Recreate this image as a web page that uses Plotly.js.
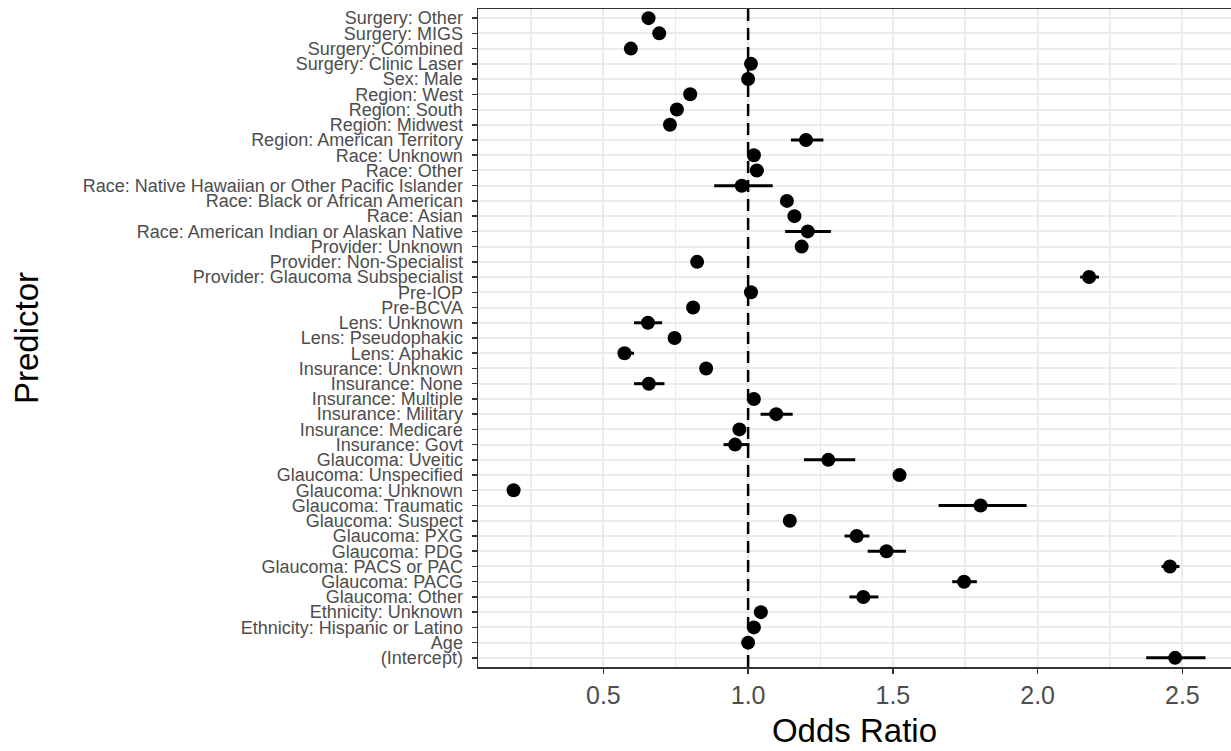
<!DOCTYPE html>
<html>
<head>
<meta charset="utf-8">
<script src="https://cdn.plot.ly/plotly-3.0.1.min.js"></script>
<style>
html, body { margin: 0; padding: 0; background: #ffffff; overflow: hidden; }
#chart { width: 1231px; height: 751px; }
</style>
</head>
<body>
<div id="chart"></div>
<script>
// Predictors (bottom to top, as drawn)
const predictors = [
  "(Intercept)", "Age", "Ethnicity: Hispanic or Latino", "Ethnicity: Unknown",
  "Glaucoma: Other", "Glaucoma: PACG", "Glaucoma: PACS or PAC", "Glaucoma: PDG",
  "Glaucoma: PXG", "Glaucoma: Suspect", "Glaucoma: Traumatic", "Glaucoma: Unknown",
  "Glaucoma: Unspecified", "Glaucoma: Uveitic", "Insurance: Govt", "Insurance: Medicare",
  "Insurance: Military", "Insurance: Multiple", "Insurance: None", "Insurance: Unknown",
  "Lens: Aphakic", "Lens: Pseudophakic", "Lens: Unknown", "Pre-BCVA", "Pre-IOP",
  "Provider: Glaucoma Subspecialist", "Provider: Non-Specialist", "Provider: Unknown",
  "Race: American Indian or Alaskan Native", "Race: Asian", "Race: Black or African American",
  "Race: Native Hawaiian or Other Pacific Islander", "Race: Other", "Race: Unknown",
  "Region: American Territory", "Region: Midwest", "Region: South", "Region: West",
  "Sex: Male", "Surgery: Clinic Laser", "Surgery: Combined", "Surgery: MIGS", "Surgery: Other"
];

const oddsRatio = [
  2.475, 1.000, 1.020, 1.044,
  1.398, 1.746, 2.457, 1.478,
  1.375, 1.144, 1.803, 0.190,
  1.523, 1.277, 0.955, 0.970,
  1.097, 1.020, 0.657, 0.855,
  0.573, 0.746, 0.654, 0.810, 1.010,
  2.178, 0.824, 1.185,
  1.206, 1.160, 1.134,
  0.978, 1.030, 1.020,
  1.200, 0.730, 0.754, 0.800,
  1.000, 1.010, 0.595, 0.693, 0.656
];

const ciLower = [
  2.375, 0.996, 1.012, 1.034,
  1.350, 1.705, 2.428, 1.413,
  1.333, 1.136, 1.658, 0.186,
  1.512, 1.193, 0.915, 0.963,
  1.043, 1.012, 0.606, 0.847,
  0.552, 0.739, 0.606, 0.805, 1.006,
  2.147, 0.818, 1.177,
  1.128, 1.152, 1.127,
  0.883, 1.006, 1.013,
  1.148, 0.724, 0.748, 0.794,
  0.996, 1.003, 0.582, 0.686, 0.650
];

const ciUpper = [
  2.580, 1.004, 1.028, 1.054,
  1.450, 1.790, 2.490, 1.545,
  1.419, 1.152, 1.962, 0.194,
  1.534, 1.370, 1.005, 0.977,
  1.154, 1.028, 0.711, 0.863,
  0.606, 0.753, 0.703, 0.815, 1.014,
  2.212, 0.830, 1.193,
  1.286, 1.168, 1.141,
  1.085, 1.055, 1.027,
  1.260, 0.736, 0.760, 0.806,
  1.004, 1.017, 0.610, 0.700, 0.662
];

const xTickVals = [0.5, 1.0, 1.5, 2.0, 2.5];
const xTickText = ["0.5", "1.0", "1.5", "2.0", "2.5"];
const minorTickVals = [0.25, 0.75, 1.25, 1.75, 2.25];
const referenceOR = 1;
const xTitle = "Odds Ratio";
const yTitle = "Predictor";

const trace = {
  type: "scatter",
  mode: "markers",
  x: oddsRatio,
  y: predictors,
  marker: { color: "#000000", size: 14 },
  error_x: {
    type: "data",
    symmetric: false,
    array: oddsRatio.map((v, i) => ciUpper[i] - v),
    arrayminus: oddsRatio.map((v, i) => v - ciLower[i]),
    color: "#000000",
    thickness: 3,
    width: 0
  },
  hoverinfo: "x+y",
  showlegend: false
};

const plotLeft = 478, plotWidth = 1231 - 478;

const layout = {
  width: 1231,
  height: 751,
  margin: { l: plotLeft, r: 0, t: 9, b: 84 },
  paper_bgcolor: "#ffffff",
  plot_bgcolor: "#ffffff",
  font: { family: "Liberation Sans, Arial, sans-serif", color: "#4d4d4d" },
  showlegend: false,
  xaxis: {
    range: [0.067, 2.668],
    tickmode: "array",
    tickvals: xTickVals,
    ticktext: xTickText,
    ticks: "outside",
    ticklen: 5,
    tickwidth: 1.5,
    tickcolor: "#333333",
    tickfont: { size: 25, color: "#4d4d4d" },
    showgrid: true,
    gridcolor: "#ebebeb",
    gridwidth: 2,
    minor: { tickvals: minorTickVals, showgrid: true, gridcolor: "#ebebeb", gridwidth: 1.5, ticks: "" },
    zeroline: false,
    showline: true,
    linecolor: "#333333",
    linewidth: 1.5,
    mirror: true,
    title: { text: xTitle, font: { size: 33, color: "#000000" }, standoff: 11 },
    automargin: false
  },
  yaxis: {
    type: "category",
    categoryorder: "array",
    categoryarray: predictors,
    range: [-0.6, predictors.length - 0.4],
    tickmode: "array",
    tickvals: predictors,
    ticktext: predictors,
    ticks: "outside",
    ticklen: 5,
    tickwidth: 1.5,
    tickcolor: "#333333",
    ticklabelstandoff: 5,
    tickfont: { size: 18, color: "#4d4d4d" },
    showgrid: true,
    gridcolor: "#ebebeb",
    gridwidth: 2,
    zeroline: false,
    showline: true,
    linecolor: "#333333",
    linewidth: 1.5,
    mirror: true,
    automargin: false
  },
  annotations: [
    {
      text: yTitle,
      xref: "paper",
      yref: "paper",
      x: (26 - plotLeft) / plotWidth,
      y: 0.5,
      xanchor: "center",
      yanchor: "middle",
      textangle: -90,
      showarrow: false,
      font: { size: 33, color: "#000000" }
    }
  ],
  shapes: [
    {
      type: "line",
      xref: "x",
      yref: "paper",
      x0: referenceOR,
      x1: referenceOR,
      y0: 0,
      y1: 1,
      layer: "above",
      line: { color: "#000000", width: 2.5, dash: "12px,7px" }
    }
  ]
};

Plotly.newPlot("chart", [trace], layout, { displayModeBar: false, staticPlot: true });
</script>
</body>
</html>
